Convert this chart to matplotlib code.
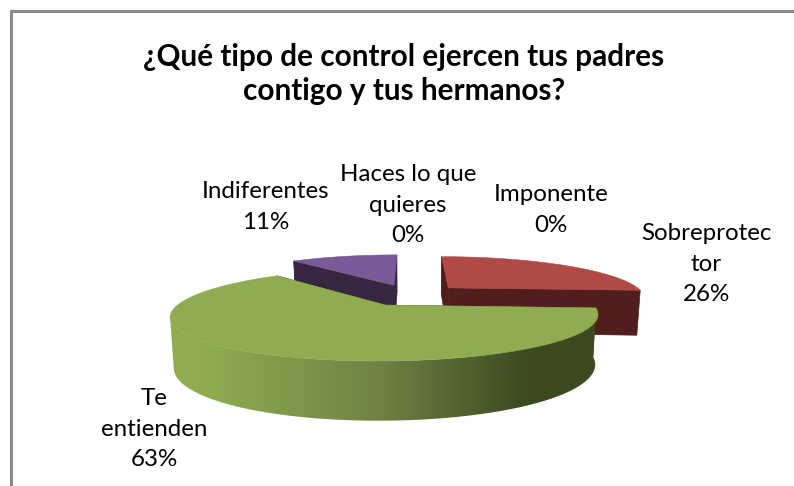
import numpy as np
import matplotlib
matplotlib.use('Agg')
import matplotlib.pyplot as plt
from matplotlib.patches import Polygon, Rectangle
from matplotlib.colors import LinearSegmentedColormap

titulo = '¿Qué tipo de control ejercen tus padres\ncontigo y tus hermanos?'
categorias = ['Sobreprotector', 'Te entienden', 'Indiferentes', 'Haces lo que quieres', 'Imponente']
valores = [26, 63, 11, 0, 0]
etiquetas = ['Sobreprotec\ntor', 'Te\nentienden', 'Indiferentes', 'Haces lo que\nquieres', 'Imponente']

color_cara = ['#b04a47', '#8fad50', '#775a96']
color_pared = ['#4f1e1d', '#3c4820', '#362640']

plt.rcParams['font.family'] = ['Lato', 'DejaVu Sans']

# proyeccion de la torta a pixeles
CX, CY = 411, 295
A, B = 197, 40
KX, KY, KH = 0.22, 0.2, 0.185
H0 = 46
ENCOGE = 0.985
EXPLOTA = 0.27


def proyecta(x, y):
    px = CX + A * x / (1 + KX * y)
    py = CY - B * y / (1 + KY * y)
    return px, py


def alto(y):
    return H0 / (1 + KH * y)


def abajo(px):
    # la base se ve un poco mas angosta que la cara de arriba
    return CX + (px - CX) * ENCOGE


fig = plt.figure(figsize=(7.94, 4.86), dpi=100)
ax = fig.add_axes([0, 0, 1, 1])

ax.add_patch(Rectangle((11, 11), 900, 600, fc='white', ec='#8c8c8c', lw=2.2))

degradado = LinearSegmentedColormap.from_list('verde', [(0, '#8fad50'), (0.53, '#6f8444'), (1, '#3d4a20')])

fracciones = np.array(valores) / sum(valores)
inicios = np.concatenate([[0], np.cumsum(fracciones)[:-1]]) * 2 * np.pi

# el verde va al final porque tapa a los otros dos
for i in [0, 2, 1]:
    f = fracciones[i]
    t0 = inicios[i]
    t1 = t0 + f * 2 * np.pi
    med = (t0 + t1) / 2
    ex = EXPLOTA * np.sin(med)
    ey = EXPLOTA * np.cos(med)
    t = np.linspace(t0, t1, 300)
    wx = ex + np.sin(t)
    wy = ey + np.cos(t)
    px, py = proyecta(wx, wy)
    ax0, ay0 = proyecta(ex, ey)
    h = alto(wy)
    h_c = alto(ey)

    # caras de corte
    for k in [0, -1]:
        ax.add_patch(Polygon([(ax0, ay0), (px[k], py[k]), (abajo(px[k]), py[k] + h[k]), (abajo(ax0), ay0 + h_c)],
                             fc=color_pared[i], ec=color_pared[i], lw=0.5))
    # pared exterior, solo hasta el punto mas a la izquierda
    n = np.argmin(px) + 1
    pared = np.column_stack([np.r_[px[:n], abajo(px[:n])[::-1]], np.r_[py[:n], (py[:n] + h[:n])[::-1]]])
    if i == 1:
        parche = Polygon(pared, fc='none', ec='none')
        ax.add_patch(parche)
        im = ax.imshow(np.linspace(0, 1, 256).reshape(1, -1), cmap=degradado, vmin=0, vmax=1,
                       extent=[203, 527, 486, 0], aspect='auto', zorder=1)
        # a los lados del degradado sigue el color del extremo
        izq = Rectangle((150, 250), 53, 200, fc='#8fad50', ec='none')
        der = Rectangle((527, 250), 90, 200, fc='#3d4a20', ec='none')
        ax.add_patch(izq)
        ax.add_patch(der)
        im.set_clip_path(parche)
        izq.set_clip_path(parche)
        der.set_clip_path(parche)
    else:
        ax.add_patch(Polygon(pared, fc=color_pared[i], ec=color_pared[i], lw=0.4))
    # cara superior
    ax.add_patch(Polygon(np.column_stack([np.r_[ax0, px], np.r_[ay0, py]]),
                         fc=color_cara[i], ec=color_cara[i], lw=0.4))

ax.set_xlim(0, 794)
ax.set_ylim(486, 0)
ax.axis('off')

ax.text(404, 74, titulo, ha='center', va='center', fontsize=21.4, fontweight='bold',
        color='black', linespacing=1.25)

pos_etiquetas = [(706, 264), (154, 429), (266, 207), (408, 205), (551, 210)]
for nombre, v, (x, y) in zip(etiquetas, valores, pos_etiquetas):
    ax.text(x, y, f'{nombre}\n{v}%', ha='center', va='center', fontsize=17.4, color='black', linespacing=1.58)

fig.savefig('out.png', dpi=100)
